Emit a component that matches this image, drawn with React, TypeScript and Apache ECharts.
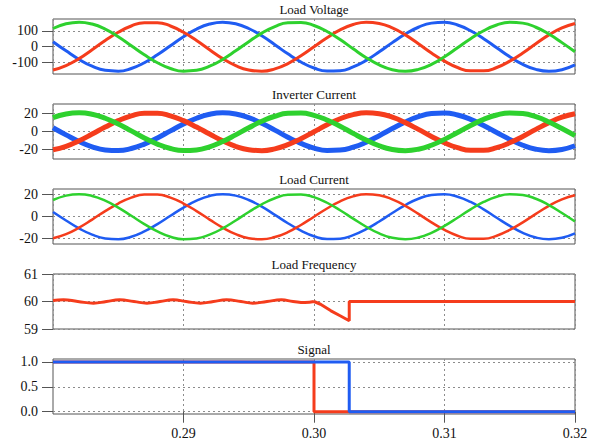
import React, { useEffect, useRef } from "react";
import * as echarts from "echarts";

// ---- data ----
const timeS = [0.280,0.281,0.282,0.283,0.284,0.285,0.286,0.287,0.288,0.289,0.290,0.291,0.292,0.293,0.294,0.295,0.296,0.297,0.298,0.299,0.300,0.301,0.302,0.303,0.304,0.305,0.306,0.307,0.308,0.309,0.310,0.311,0.312,0.313,0.314,0.315,0.316,0.317,0.318,0.319,0.320];

const voltRed = [-147,-119,-75,-19,39,91,131,152,152,131,91,39,-19,-75,-119,-147,-155,-140,-106,-57,0,57,106,140,155,147,119,75,19,-39,-91,-131,-152,-152,-131,-91,-39,19,75,119,147];
const voltBlue = [32,-26,-80,-123,-149,-154,-137,-101,-51,6,63,111,143,155,145,115,69,13,-45,-96,-134,-153,-151,-127,-86,-32,26,80,123,149,154,137,101,51,-6,-63,-111,-143,-155,-145,-115];
const voltGreen = [115,145,155,143,111,63,6,-51,-101,-137,-154,-149,-123,-80,-26,32,86,127,151,153,134,96,45,-13,-69,-115,-145,-155,-143,-111,-63,-6,51,101,137,154,149,123,80,26,-32];

const invRed = [-20.0,-16.2,-10.1,-2.6,5.2,12.3,17.7,20.6,20.6,17.7,12.3,5.2,-2.6,-10.1,-16.2,-20.0,-21.0,-19.0,-14.4,-7.7,0,7.7,14.4,19.0,21.0,20.0,16.2,10.1,2.6,-5.2,-12.3,-17.7,-20.6,-20.6,-17.7,-12.3,-5.2,2.6,10.1,16.2,20.0];
const invBlue = [4.4,-3.5,-10.9,-16.7,-20.2,-20.9,-18.6,-13.7,-6.9,0.9,8.5,15.0,19.4,21.0,19.7,15.6,9.3,1.8,-6.1,-13.0,-18.2,-20.8,-20.4,-17.2,-11.6,-4.4,3.5,10.9,16.7,20.2,20.9,18.6,13.7,6.9,-0.9,-8.5,-15.0,-19.4,-21.0,-19.7,-15.6];
const invGreen = [15.6,19.7,21.0,19.4,15.0,8.5,0.9,-6.9,-13.7,-18.6,-20.9,-20.2,-16.7,-10.9,-3.5,4.4,11.6,17.2,20.4,20.8,18.2,13.0,6.1,-1.8,-9.3,-15.6,-19.7,-21.0,-19.4,-15.0,-8.5,-0.9,6.9,13.7,18.6,20.9,20.2,16.7,10.9,3.5,-4.4];

const loadRed = [-19.5,-15.8,-9.9,-2.6,5.1,12.0,17.3,20.1,20.1,17.3,12.0,5.1,-2.6,-9.9,-15.8,-19.5,-20.5,-18.5,-14.0,-7.5,0,7.5,14.0,18.5,20.5,19.5,15.8,9.9,2.6,-5.1,-12.0,-17.3,-20.1,-20.1,-17.3,-12.0,-5.1,2.6,9.9,15.8,19.5];
const loadBlue = [4.3,-3.4,-10.6,-16.3,-19.7,-20.4,-18.2,-13.4,-6.7,0.9,8.3,14.6,18.9,20.5,19.2,15.2,9.1,1.7,-5.9,-12.7,-17.8,-20.3,-20.0,-16.8,-11.3,-4.3,3.4,10.6,16.3,19.7,20.4,18.2,13.4,6.7,-0.9,-8.3,-14.6,-18.9,-20.5,-19.2,-15.2];
const loadGreen = [15.2,19.2,20.5,18.9,14.6,8.3,0.9,-6.7,-13.4,-18.2,-20.4,-19.7,-16.3,-10.6,-3.4,4.3,11.3,16.8,20.0,20.3,17.8,12.7,5.9,-1.7,-9.1,-15.2,-19.2,-20.5,-18.9,-14.6,-8.3,-0.9,6.7,13.4,18.2,20.4,19.7,16.3,10.6,3.4,-4.3];

const freqWaveT = [0.2800,0.2808,0.2819,0.2831,0.2841,0.2851,0.2862,0.2872,0.2882,0.2892,0.2902,0.2913,0.2923,0.2933,0.2944,0.2953,0.2964,0.2975,0.2984,0.2993,0.3000];
const freqWaveV = [60.04,60.06,60.0,59.94,60.0,60.06,60.0,59.94,60.0,60.06,60.0,59.94,60.0,60.06,60.0,59.94,60.0,60.06,60.0,59.96,60.0];
const freqDipT = [0.3000,0.3005,0.3013,0.3020,0.3027,0.3027,0.3200];
const freqDipV = [60.0,59.90,59.66,59.48,59.30,60.0,60.0];

const sigRedT = [0.28,0.30,0.30,0.32];
const sigRedV = [1,1,0,0];
const sigBlueT = [0.28,0.3027,0.3027,0.32];
const sigBlueV = [1,1,0,0];

const titles = ["Load Voltage","Inverter Current","Load Current","Load Frequency","Signal"];
const xTicks = [0.29,0.30,0.31,0.32];

const RED = "#f53c1c";
const GREEN = "#2ed12e";
const BLUE = "#1f5cf2";
const FONT = "Times New Roman, Liberation Serif, serif";

const pair = (t: number[], v: number[]) => t.map((x, i) => [x, v[i]]);

export default function App() {
  const ref = useRef<HTMLDivElement>(null);
  useEffect(() => {
    if (!ref.current) return;
    const chart = echarts.init(ref.current, null, { renderer: "svg" });
    const L = 53, W = 522, H = 55;
    const tops = [19, 104, 189, 274, 359];
    const yCfg = [
      { min: -172, max: 175, ticks: [-100, 0, 100], fmt: (v: number) => String(v) },
      { min: -30.3, max: 30.8, ticks: [-20, 0, 20], fmt: (v: number) => String(v) },
      { min: -24.8, max: 25.2, ticks: [-20, 0, 20], fmt: (v: number) => String(v) },
      { min: 59, max: 61, ticks: [59, 60, 61], fmt: (v: number) => String(v) },
      { min: -0.046, max: 1.06, ticks: [0, 0.5, 1], fmt: (v: number) => v.toFixed(1) },
    ];
    const split = { show: true, lineStyle: { color: "#8c8c8c", type: [2, 3], width: 1 } };
    const grids = tops.map((t) => ({
      left: L, top: t, width: W, height: H, show: true,
      borderColor: "#555", borderWidth: 1, backgroundColor: "transparent",
    }));
    const xAxes = tops.map((_, i) => {
      const last = i === 4;
      return {
        type: "value", gridIndex: i, min: 0.28, max: 0.32, interval: 0.01,
        axisLine: { show: false },
        axisTick: last ? { show: true, customValues: xTicks, length: 11, lineStyle: { color: "#555" } } : { show: false },
        axisLabel: last ? {
          show: true, customValues: xTicks, formatter: (v: number) => v.toFixed(2),
          fontFamily: FONT, fontSize: 14, color: "#111", margin: 12,
        } : { show: false },
        splitLine: split,
      };
    });
    const yAxes = yCfg.map((c, i) => ({
      type: "value", gridIndex: i, min: c.min, max: c.max,
      axisLine: { show: false },
      axisTick: { show: true, customValues: c.ticks, length: 11, lineStyle: { color: "#555" } },
      axisLabel: { show: true, customValues: c.ticks, formatter: c.fmt, fontFamily: FONT, fontSize: 14, color: "#111", margin: 15 },
      splitLine: split,
    }));
    const line = (i: number, data: number[][], color: string, width: number, smooth: boolean) => ({
      type: "line", xAxisIndex: i, yAxisIndex: i, data, showSymbol: false, symbol: "none",
      smooth, lineStyle: { color, width }, itemStyle: { color }, silent: true,
    });
    const series = [
      line(0, pair(timeS, voltBlue), BLUE, 3, true),
      line(0, pair(timeS, voltRed), RED, 3, true),
      line(0, pair(timeS, voltGreen), GREEN, 3, true),
      line(1, pair(timeS, invBlue), BLUE, 5, true),
      line(1, pair(timeS, invRed), RED, 5, true),
      line(1, pair(timeS, invGreen), GREEN, 5, true),
      line(2, pair(timeS, loadBlue), BLUE, 2.5, true),
      line(2, pair(timeS, loadRed), RED, 2.5, true),
      line(2, pair(timeS, loadGreen), GREEN, 2.5, true),
      line(3, pair(freqWaveT, freqWaveV), RED, 3, true),
      line(3, pair(freqDipT, freqDipV), RED, 3, false),
      line(4, pair(sigRedT, sigRedV), RED, 3, false),
      line(4, pair(sigBlueT, sigBlueV), BLUE, 3, false),
    ];
    const graphic = titles.map((txt, i) => ({
      type: "text", x: L + W / 2, y: tops[i] - 10, silent: true,
      style: { text: txt, font: `13px ${FONT}`, fill: "#111", align: "center", verticalAlign: "middle" },
    }));
    chart.setOption({
      animation: false,
      backgroundColor: "#fff",
      grid: grids,
      xAxis: xAxes,
      yAxis: yAxes,
      series,
      graphic,
    });
    return () => chart.dispose();
  }, []);
  return <div ref={ref} style={{ position: "absolute", left: 0, top: 0, width: 594, height: 441, background: "#fff" }} />;
}
